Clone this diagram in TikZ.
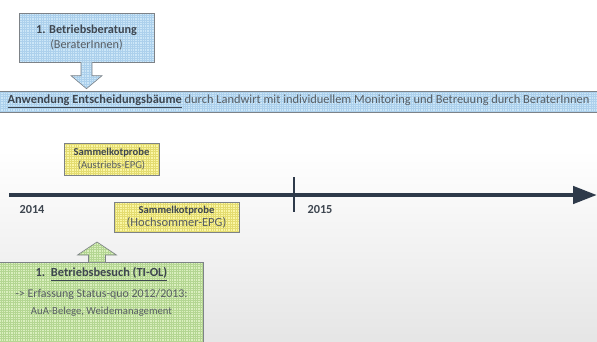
\documentclass[tikz,border=0pt]{standalone}
\usepackage{fontspec}
\setmainfont{Carlito}
\usetikzlibrary{arrows.meta,calc}
\definecolor{txtdark}{RGB}{62,70,80}
\definecolor{txtgray}{RGB}{88,94,100}
\definecolor{cline}{RGB}{46,58,74}
\definecolor{cframe}{RGB}{125,130,135}
\definecolor{cblue}{RGB}{204,230,247}
\definecolor{cbluegrid}{RGB}{172,208,236}
\definecolor{cyellow}{RGB}{250,246,165}
\definecolor{cyellowgrid}{RGB}{228,220,112}
\definecolor{cgreen}{RGB}{218,239,190}
\definecolor{cgreengrid}{RGB}{180,214,146}
\tikzset{
  tline/.style={x=1pt,y=-1pt,font=\fontsize{12.2}{15}\selectfont},
  gridfill/.style 2 args={fill=#1,path picture={\draw[#2,line width=0.25pt]
      (path picture bounding box.south west) grid[step=2.4pt] (path picture bounding box.north east);}},
  card/.style={draw=cframe,line width=0.6pt,inner sep=0pt,align=center,text=txtgray},
  probe/.style={card,gridfill={cyellow}{cyellowgrid},font=\fontsize{10.6}{12.5}\selectfont},
  blockarrow/.style={draw=cframe,line width=0.6pt},
  year/.style={anchor=west,text=txtdark,font=\fontsize{12.3}{14}\selectfont\bfseries},
}

\begin{document}
\begin{tikzpicture}[tline]
    \useasboundingbox (0,0) rectangle (597,341);
    \shade[top color=white,bottom color=black!10] (0,150) rectangle (597,341);
    % Beratung oben
    \node[card,gridfill={cblue}{cbluegrid},minimum width=135pt,minimum height=49pt] (berat) at (86.5,37.5)
        {\textcolor{txtdark}{\textbf{1. Betriebsberatung}}\\(BeraterInnen)};
    \node[card,gridfill={cblue}{cbluegrid},minimum width=602pt,minimum height=21pt] (anwend) at (298.5,101.5)
        {\fontsize{12.4}{15}\selectfont\textcolor{txtdark}{\underline{\textbf{Anwendung Entscheidungsbäume}}} durch Landwirt mit individuellem Monitoring und Betreuung durch BeraterInnen};
    \coordinate (beratTip) at ($(berat.south |- anwend.north)+(0,-2)$);
    \path[blockarrow,gridfill={cblue}{cbluegrid}] ($(berat.south)+(-5.5,0)$) -- ($(beratTip)+(-5.5,-13)$)
        -- ($(beratTip)+(-15.5,-13)$) -- (beratTip) -- ($(beratTip)+(15.5,-13)$)
        -- ($(beratTip)+(5.5,-13)$) -- ($(berat.south)+(5.5,0)$);
    % Zeitstrahl
    \coordinate (tlStart) at (9,195);
    \coordinate (tlEnd) at (597,195);
    \coordinate (tick15) at (294,195);
    \draw[cline,line width=4.5pt,-{Triangle[length=24pt,width=17pt]}] (tlStart) -- (tlEnd);
    \draw[cline,line width=2.5pt] ($(tick15)+(0,-18)$) -- ($(tick15)+(0,17)$);
    \node[year] (y2014) at (16,210) {2014};
    \node[year] (y2015) at (304,210) {2015};
    % Sammelkotproben
    \node[probe,minimum width=95pt,minimum height=32pt] (probeA) at (111.5,159)
        {\textcolor{txtdark}{\textbf{Sammelkotprobe}}\\(Austriebs-EPG)};
    \node[probe,minimum width=125pt,minimum height=30pt] (probeB) at (176.5,217)
        {\textcolor{txtdark}{\textbf{Sammelkotprobe}}\\{\fontsize{12.5}{13}\selectfont(Hochsommer-EPG)}};
    % Betriebsbesuch unten
    \node[card,gridfill={cgreen}{cgreengrid},minimum width=204pt,minimum height=90pt,anchor=north] (besuch) at (101.5,262) {};
    \node[text=txtdark,font=\fontsize{12.4}{14}\selectfont\bfseries,inner sep=0pt] (besuchA) at ($(besuch.north)+(0,12)$)
        {1.\ \ \underline{Betriebsbesuch (TI-OL)}};
    \node[text=txtgray,font=\fontsize{11.9}{14}\selectfont,inner sep=0pt] (besuchB) at ($(besuch.north)+(0,32)$)
        {-> Erfassung Status-quo 2012/2013:};
    \node[text=txtgray,font=\fontsize{10.7}{13}\selectfont,inner sep=0pt] (besuchC) at ($(besuch.north)+(0,50)$)
        {AuA-Belege, Weidemanagement};
    \coordinate (besuchTip) at ($(besuch.north)+(-4.5,-20)$);
    \path[blockarrow,gridfill={cgreen}{cgreengrid}] ($(besuch.north)+(-13,0)$) -- ($(besuchTip)+(-8.5,13)$)
        -- ($(besuchTip)+(-19.5,13)$) -- (besuchTip) -- ($(besuchTip)+(19.5,13)$)
        -- ($(besuchTip)+(8.5,13)$) -- ($(besuch.north)+(4,0)$);
\end{tikzpicture}
\end{document}
